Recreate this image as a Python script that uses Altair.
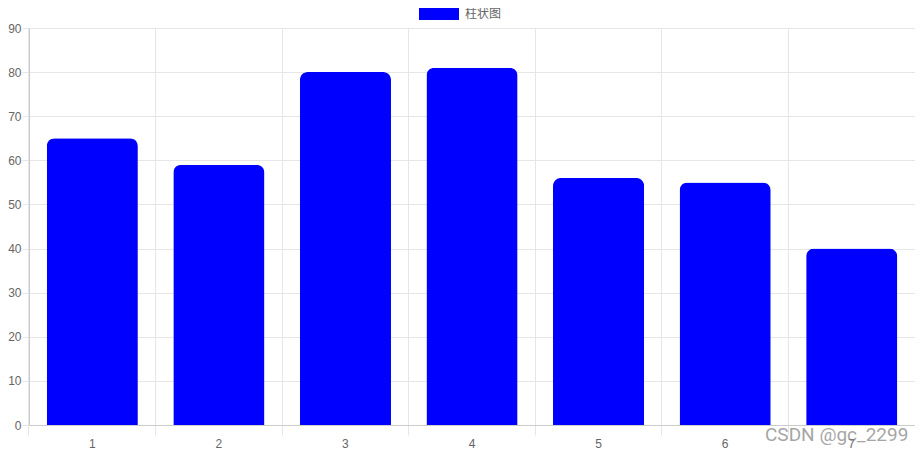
import altair as alt
import pandas as pd

categories = ["1", "2", "3", "4", "5", "6", "7"]
values = [65, 59, 80, 81, 56, 55, 40]
series_name = "柱状图"
y_ticks = [0, 10, 20, 30, 40, 50, 60, 70, 80, 90]
watermark = "CSDN @gc_2299"

df = pd.DataFrame({"label": categories, "value": values, "series": [series_name] * len(categories)})

FONT = "Liberation Sans, Arial, Noto Sans CJK SC"
GRID = "#e6e6e6"
AXIS = "#cccccc"
LABEL = "#666666"

bars = alt.Chart(df).mark_bar(
    color="#0000ff", cornerRadiusTopLeft=8, cornerRadiusTopRight=8
).encode(
    x=alt.X(
        "label:N",
        sort=categories,
        scale=alt.Scale(paddingInner=0.28, paddingOuter=0.14),
        axis=alt.Axis(
            title=None, labelAngle=0, bandPosition=-0.195,
            grid=True, gridColor=GRID, tickColor=GRID, tickSize=10,
            domainColor=AXIS, labelColor=LABEL, labelFont=FONT, labelFontSize=12,
            labelPadding=3,
        ),
    ),
    y=alt.Y(
        "value:Q",
        scale=alt.Scale(domain=[0, 90], nice=False),
        axis=alt.Axis(
            title=None, values=y_ticks, grid=True, gridColor=GRID, tickColor=GRID,
            tickSize=7, domainColor=AXIS, labelColor=LABEL, labelFont=FONT,
            labelFontSize=12, labelPadding=1,
        ),
    ),
    color=alt.Color(
        "series:N",
        scale=alt.Scale(range=["#0000ff"]),
        legend=alt.Legend(
            title=None, orient="none", legendX=390, legendY=-34, padding=0,
            symbolType="M-1,-0.3L1,-0.3L1,0.3L-1,0.3Z", symbolSize=1600,
            symbolStrokeWidth=0, symbolOpacity=1, labelColor=LABEL, labelFont=FONT,
            labelFontSize=12, labelOffset=6,
        ),
    ),
)

wm = alt.Chart(pd.DataFrame({"t": [watermark]})).mark_text(
    align="left", baseline="alphabetic", fontSize=19, font="Roboto, Noto Sans",
    color="#888888", opacity=0.75,
).encode(text="t:N", x=alt.value(736), y=alt.value(413))

chart = alt.layer(bars, wm).properties(
    width=886, height=397,
    autosize=alt.AutoSizeParams(type="none"),
    padding={"left": 21, "top": 20, "right": 0, "bottom": 30},
).configure_view(strokeWidth=0)

chart.save("out.html", embed_options={"renderer": "svg", "actions": False})
